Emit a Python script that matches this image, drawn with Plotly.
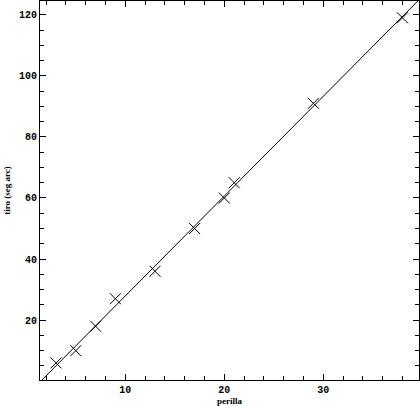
import numpy as np
import plotly.graph_objects as go

# Data
perilla = [3, 5, 7, 9, 13, 17, 20, 21, 29, 38]
tiro = [6, 10, 18, 27, 36, 50, 60, 65, 91, 119]

x_range = [1.38, 39.67]
y_range = [0.4, 124.5]

# Least-squares fit line
slope, intercept = np.polyfit(perilla, tiro, 1)
fit_x = np.array(x_range)
fit_y = slope * fit_x + intercept

tick_font = dict(family="Liberation Mono", size=10, color="black", weight="bold")
title_font = dict(family="Liberation Serif", size=9, color="black")

fig = go.Figure()
fig.add_trace(go.Scatter(x=fit_x, y=fit_y, mode="lines",
                         line=dict(color="black", width=1),
                         showlegend=False, hoverinfo="skip"))
fig.add_trace(go.Scatter(x=perilla, y=tiro, mode="markers",
                         marker=dict(symbol="x-thin", size=11,
                                     line=dict(color="black", width=1)),
                         showlegend=False))

axis_common = dict(
    showgrid=False, zeroline=False, showline=True, linecolor="black",
    linewidth=1, mirror="ticks", ticks="inside", ticklen=6, tickwidth=1,
    tickcolor="black",
)

fig.update_xaxes(
    range=x_range, dtick=10, tick0=0,
    minor=dict(dtick=2, ticks="inside", ticklen=4, tickcolor="black"),
    tickfont=tick_font,
    title=dict(text="<b>perilla</b>", font=title_font, standoff=2),
    **axis_common,
)
fig.update_yaxes(
    range=y_range, dtick=20, tick0=0,
    minor=dict(dtick=5, ticks="inside", ticklen=4, tickcolor="black"),
    tickfont=tick_font,
    title=dict(text="<b>tiro (seg arc)</b>", font=title_font, standoff=6),
    **axis_common,
)

fig.update_layout(
    width=420, height=406,
    margin=dict(l=40, r=1, t=1, b=26, autoexpand=False),
    paper_bgcolor="white", plot_bgcolor="white",
)

fig.write_html("out.html",
               config={"displayModeBar": False},
               post_script="document.body.style.margin='0';document.body.style.overflow='hidden';")
